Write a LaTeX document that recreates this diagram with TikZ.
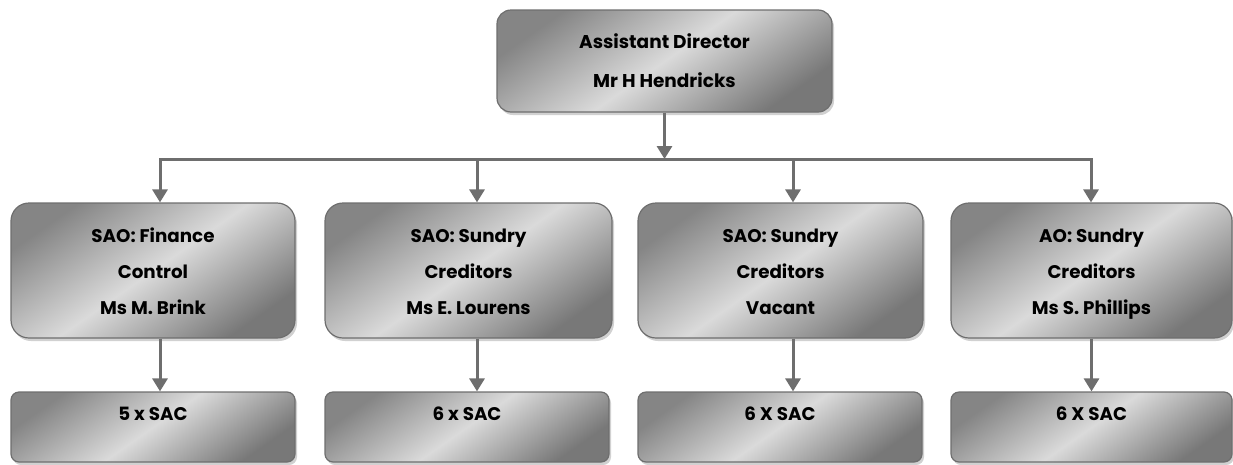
\documentclass[tikz,border=0pt]{standalone}
\usepackage{fontspec}
\setmainfont{Poppins}
\usetikzlibrary{arrows.meta,shadows}
\definecolor{lineg}{HTML}{6E6E6E}
\definecolor{edgeg}{HTML}{858585}
\definecolor{midg}{HTML}{DADADA}
\newcommand{\topstr}{\rule{0pt}{21.5pt}}
\tikzset{
  boxbase/.style={draw=lineg, line width=1.2pt, shading=axis, top color=edgeg, bottom color=edgeg!90!black, middle color=midg, shading angle=35,
    drop shadow={fill=black!30, opacity=0.6, shadow xshift=2pt, shadow yshift=-3pt},
    align=center, inner sep=0pt, font=\fontsize{18.3}{36}\selectfont\bfseries},
  topbox/.style={boxbase, rounded corners=14pt, minimum width=335pt, minimum height=102pt, font=\fontsize{18.5}{39}\selectfont\bfseries},
  midbox/.style={boxbase, rounded corners=18pt, minimum width=285pt, minimum height=135pt},
  lowbox/.style={boxbase, rounded corners=8pt, minimum width=284pt, minimum height=70pt, text height=0pt, text depth=14pt, align=none},
  conn/.style={draw=lineg, line width=3pt},
  arr/.style={conn, -{Triangle[width=15pt,length=13pt]}}
}
\begin{document}
\begin{tikzpicture}[x=1pt,y=-1pt]
\useasboundingbox (0,0) rectangle (1233,464);
\node[topbox] (top) at (664.5,61) {Assistant Director\\Mr H Hendricks};
\node[midbox, minimum width=284pt] (m1) at (153,270.5) {\topstr SAO: Finance\\Control\\Ms M. Brink\vphantom{p}};
\node[midbox, minimum width=287pt] (m2) at (468.5,270.5) {\topstr SAO: Sundry\\Creditors\\Ms E. Lourens\vphantom{p}};
\node[midbox, minimum width=285pt] (m3) at (780.5,270.5) {\topstr SAO: Sundry\\Creditors\\Vacant\vphantom{p}};
\node[midbox, minimum width=281pt] (m4) at (1091.5,270.5) {\topstr AO: Sundry\\Creditors\\Ms S. Phillips};
\node[lowbox] (l1) at (153,427) {5 x SAC};
\node[lowbox, minimum width=284pt] (l2) at (467,427) {6 x SAC};
\node[lowbox] (l3) at (780,427) {6 X SAC};
\node[lowbox, minimum width=281pt] (l4) at (1091.5,427) {6 X SAC};
\coordinate (barL) at (160,159);
\coordinate (barR) at (1091,159);
\draw[conn, line cap=rect] (barL) -- (barR);
\draw[arr] (top.south) -- (top.south |- barL);
\draw[arr] (barL) -- (barL |- m1.north);
\draw[arr] ([xshift=8.5pt]m2.north |- barL) -- ([xshift=8.5pt]m2.north);
\draw[arr] ([xshift=12.5pt]m3.north |- barL) -- ([xshift=12.5pt]m3.north);
\draw[arr] (barR) -- (barR |- m4.north);
\draw[arr] ([xshift=7pt]m1.south) -- ([xshift=7pt]l1.north -| m1.south);
\draw[arr] ([xshift=8.5pt]m2.south) -- ([xshift=8.5pt]l2.north -| m2.south);
\draw[arr] ([xshift=12.5pt]m3.south) -- ([xshift=12.5pt]l3.north -| m3.south);
\draw[arr] (m4.south) -- (l4.north -| m4.south);
\end{tikzpicture}
\end{document}
